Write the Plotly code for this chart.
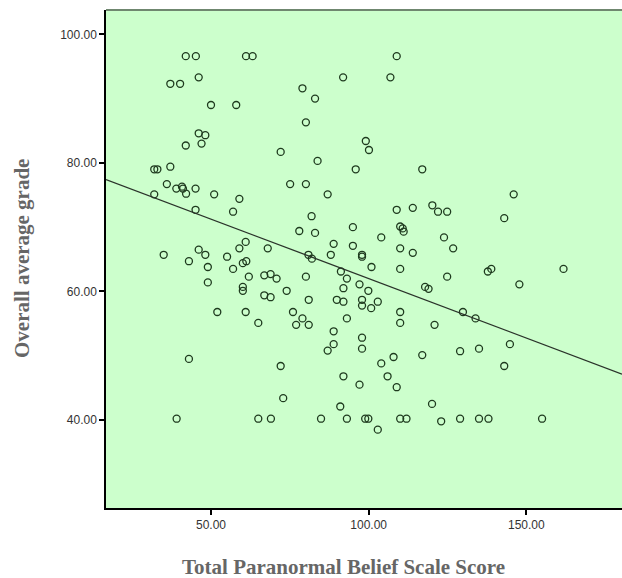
import plotly.graph_objects as go

# Data
belief_score = [
    42.0, 45.2, 61.1, 63.2, 108.9, 37.1, 40.2, 46.1, 91.9, 106.9,
    50.0, 58.0, 79.0, 83.0, 80.1, 46.1, 48.2, 42.0, 47.0, 99.1,
    100.1, 72.1, 83.8, 32.0, 33.0, 37.1, 95.9, 117.0, 36.0, 39.0,
    40.8, 41.1, 42.1, 45.1, 32.0, 51.0, 59.0, 75.1, 80.1, 87.0,
    146.0, 45.1, 57.0, 81.9, 108.9, 114.0, 120.2, 122.0, 124.9, 143.0,
    78.0, 83.0, 95.0, 110.0, 110.8, 111.1, 123.9, 104.0, 88.9, 95.0,
    61.0, 59.0, 68.0, 126.8, 110.0, 46.1, 35.0, 48.2, 55.1, 80.9,
    82.0, 88.0, 97.9, 97.9, 114.0, 43.0, 60.1, 61.2, 49.0, 57.0,
    100.9, 91.2, 110.0, 137.8, 138.9, 161.8, 62.0, 66.9, 68.9, 70.8,
    80.1, 124.9, 93.1, 49.0, 97.1, 147.8, 60.1, 60.1, 92.0, 117.9,
    119.0, 74.0, 99.9, 66.9, 68.9, 81.0, 89.9, 92.0, 97.9, 97.9,
    100.8, 102.9, 52.0, 61.0, 76.0, 110.0, 129.9, 79.0, 93.1, 133.9,
    65.0, 110.0, 77.0, 81.0, 120.9, 88.9, 97.9, 88.9, 144.8, 97.9,
    135.0, 87.0, 129.0, 117.0, 107.9, 43.0, 72.1, 143.0, 104.0, 106.0,
    92.0, 97.1, 108.9, 72.9, 91.0, 120.1, 39.1, 65.0, 69.0, 84.9,
    93.1, 98.9, 99.9, 102.9, 110.0, 112.0, 123.0, 129.0, 135.0, 138.0,
    155.0,
]
average_grade = [
    96.6, 96.6, 96.6, 96.6, 96.6, 92.3, 92.3, 93.3, 93.3, 93.3,
    89.0, 89.0, 91.6, 90.0, 86.3, 84.6, 84.3, 82.7, 83.0, 83.4,
    82.0, 81.7, 80.3, 79.0, 79.0, 79.4, 79.0, 79.0, 76.7, 76.0,
    76.3, 76.0, 75.2, 76.0, 75.1, 75.1, 74.4, 76.7, 76.7, 75.1,
    75.1, 72.7, 72.4, 71.7, 72.7, 73.0, 73.4, 72.4, 72.4, 71.4,
    69.4, 69.1, 70.0, 70.1, 69.8, 69.3, 68.4, 68.4, 67.4, 67.1,
    67.7, 66.7, 66.7, 66.7, 66.7, 66.5, 65.7, 65.7, 65.4, 65.7,
    65.1, 65.7, 65.7, 65.4, 66.0, 64.7, 64.4, 64.7, 63.8, 63.5,
    63.8, 63.1, 63.5, 63.1, 63.5, 63.5, 62.3, 62.5, 62.7, 62.0,
    62.3, 62.3, 62.0, 61.4, 61.1, 61.1, 60.7, 60.1, 60.5, 60.7,
    60.4, 60.1, 60.1, 59.4, 59.1, 58.7, 58.7, 58.4, 58.7, 57.8,
    57.4, 58.4, 56.8, 56.8, 56.8, 56.8, 56.8, 55.8, 55.8, 55.8,
    55.1, 55.1, 54.8, 54.8, 54.8, 53.8, 52.8, 51.8, 51.8, 51.1,
    51.1, 50.8, 50.7, 50.1, 49.8, 49.5, 48.4, 48.4, 48.8, 46.8,
    46.8, 45.5, 45.1, 43.4, 42.1, 42.5, 40.2, 40.2, 40.2, 40.2,
    40.2, 40.2, 40.2, 38.5, 40.2, 40.2, 39.8, 40.2, 40.2, 40.2,
    40.2,
]

# Fit line
fit_intercept = 80.5
fit_slope = -0.185

x_range = [16.7, 180.35]
y_range = [26.31, 103.78]
x_ticks = [50, 100, 150]
y_ticks = [40, 60, 80, 100]

fit_x = x_range
fit_y = [fit_intercept + fit_slope * v for v in fit_x]

fig = go.Figure()
fig.add_trace(go.Scatter(
    x=belief_score, y=average_grade, mode="markers",
    marker=dict(symbol="circle-open", size=7, color="#1e3a1e",
                line=dict(width=1.3, color="#1e3a1e")),
    showlegend=False, hoverinfo="x+y",
))
fig.add_trace(go.Scatter(
    x=fit_x, y=fit_y, mode="lines",
    line=dict(color="#2a332a", width=1.3),
    showlegend=False, hoverinfo="skip",
))

tick_font = dict(family="Liberation Sans, Arial, sans-serif", size=12, color="#333333")
fig.update_layout(
    width=622, height=578,
    margin=dict(l=106, r=0, t=10, b=70),
    paper_bgcolor="white",
    plot_bgcolor="#ccffcc",
    xaxis=dict(range=x_range, tickvals=x_ticks, ticktext=[f"{v:.2f}" for v in x_ticks],
               showgrid=False, zeroline=False, showline=True, linecolor="black", linewidth=1.5,
               ticks="outside", ticklen=5, tickcolor="black", tickwidth=1.5,
               tickfont=tick_font),
    yaxis=dict(range=y_range, tickvals=y_ticks, ticktext=[f"{v:.2f}" for v in y_ticks],
               showgrid=False, zeroline=False, showline=True, linecolor="black", linewidth=1.5,
               ticks="outside", ticklen=5, tickcolor="black", tickwidth=1.5,
               tickfont=tick_font),
    shapes=[dict(type="line", xref="paper", yref="paper", x0=0, x1=1, y0=1, y1=1,
                 line=dict(color="#6f876f", width=2))],
    annotations=[
        dict(text="<b>Total Paranormal Belief Scale Score</b>", xref="paper", yref="paper",
             x=(343 - 106) / 516, y=(508 - 567) / 498, xanchor="center", yanchor="middle",
             showarrow=False,
             font=dict(family="Liberation Serif, Times New Roman, serif", size=21, color="#666666")),
        dict(text="<b>Overall average grade</b>", xref="paper", yref="paper",
             x=(22 - 106) / 516, y=(508 - 259) / 498, xanchor="center", yanchor="middle",
             textangle=-90, showarrow=False,
             font=dict(family="Liberation Serif, Times New Roman, serif", size=21, color="#666666")),
    ],
)

fig.write_html(
    "out.html",
    config={"displayModeBar": False},
    post_script="document.body.style.margin='0';document.body.style.overflow='hidden';",
)
